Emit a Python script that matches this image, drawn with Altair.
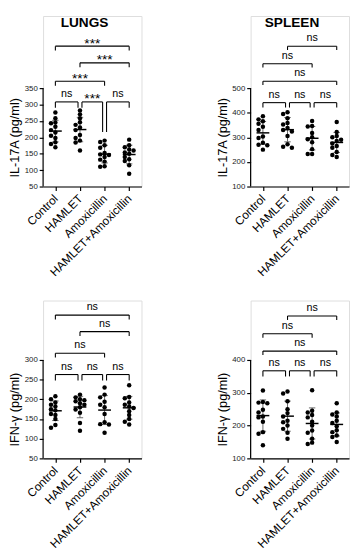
import altair as alt
import pandas as pd

FONT = "Liberation Sans, Arial, sans-serif"
groups = ["Control", "HAMLET", "Amoxicillin", "HAMLET+Amoxicillin"]

# ---- data ----
lung_il17 = [
    [276, 258, 245, 243, 232, 222, 215, 205, 198, 185, 180, 170],
    [282, 270, 258, 246, 238, 230, 222, 207, 198, 190, 184, 160],
    [190, 186, 176, 168, 152, 148, 146, 140, 132, 126, 112, 110],
    [193, 176, 170, 163, 160, 154, 150, 140, 133, 128, 115, 89],
]
spleen_il17 = [
    [386, 373, 365, 355, 343, 330, 303, 297, 278, 270, 268, 250],
    [402, 395, 378, 358, 352, 338, 330, 324, 305, 272, 262, 258],
    [366, 346, 344, 318, 300, 292, 280, 252, 232, 232],
    [362, 322, 305, 300, 290, 285, 275, 265, 258, 240, 228, 220],
]
lung_ifn = [
    [208, 200, 192, 186, 182, 175, 172, 163, 160, 150, 135, 128],
    [212, 205, 200, 198, 195, 190, 186, 180, 174, 166, 140, 120],
    [230, 212, 205, 194, 186, 180, 163, 142, 137, 136, 115],
    [236, 206, 203, 192, 186, 182, 178, 170, 160, 150, 143, 136],
]
spleen_ifn = [
    [307, 272, 270, 268, 248, 240, 228, 225, 212, 180, 175, 140],
    [304, 298, 274, 250, 238, 228, 215, 210, 200, 190, 178, 160],
    [308, 245, 240, 232, 225, 212, 200, 185, 178, 160, 148, 144],
    [268, 240, 234, 228, 215, 208, 198, 186, 180, 170, 165, 150],
]

# significance brackets: (group from, group to, level, left leg end, right leg end, label)
br_lung_il17 = [
    (0, 3, 478, 465, 465, "***"),
    (1, 3, 427, 414, 414, "***"),
    (0, 2, 371, 357, 357, "***"),
    (0, 1, 308, 290, 290, "ns"),
    (1, 2, 308, 290, 216, "***"),
    (2, 3, 308, 216, 290, "ns"),
]
br_spleen_il17 = [
    (1, 3, 670, 655, 655, "ns"),
    (0, 2, 599, 584, 584, "ns"),
    (0, 3, 528, 513, 513, "ns"),
    (0, 1, 441, 421, 421, "ns"),
    (1, 2, 441, 421, 421, "ns"),
    (2, 3, 441, 421, 421, "ns"),
]
br_lung_ifn = [
    (0, 3, 414, 403, 403, "ns"),
    (1, 3, 372, 361, 361, "ns"),
    (0, 2, 317, 306, 306, "ns"),
    (0, 1, 263, 248, 248, "ns"),
    (1, 2, 263, 248, 248, "ns"),
    (2, 3, 263, 248, 248, "ns"),
]
br_spleen_ifn = [
    (1, 3, 534, 522, 522, "ns"),
    (0, 2, 480, 468, 468, "ns"),
    (0, 3, 427, 415, 415, "ns"),
    (0, 1, 367, 350, 350, "ns"),
    (1, 2, 367, 350, 350, "ns"),
    (2, 3, 367, 350, 350, "ns"),
]

panels = [
    dict(title="LUNGS", ytitle="IL-17A (pg/ml)", ymin=50, ymax=350, step=50, data=lung_il17, br=br_lung_il17),
    dict(title="SPLEEN", ytitle="IL-17A (pg/ml)", ymin=100, ymax=500, step=100, data=spleen_il17, br=br_spleen_il17),
    dict(title=None, ytitle="IFN-\u03b3 (pg/ml)", ymin=50, ymax=300, step=50, data=lung_ifn, br=br_lung_ifn),
    dict(title=None, ytitle="IFN-\u03b3 (pg/ml)", ymin=100, ymax=400, step=100, data=spleen_ifn, br=br_spleen_ifn),
]

# ---- layout constants ----
W = 101          # plot width
AXIS_PX = 101    # pixel length of the drawn y axis
H_TOP = 175
H_BOT = 162
GAP = 0.08
XSTEP = W / 4.0

label_expr = "[" + ",".join("'%s'" % g for g in groups) + "][datum.value]"


def swarm(values, ppu):
    placed = []
    offs = []
    cands = [0, -4.5, 4.5, -2.5, 2.5, -6.5, 6.5, -8, 8]
    for v in values:
        y = v * ppu
        pick = cands[-1]
        for c in cands:
            if all((c - px) ** 2 + (y - py) ** 2 >= 4.0 ** 2 for py, px in placed):
                pick = c
                break
        placed.append((y, pick))
        offs.append(pick / XSTEP)
    return offs


def make_panel(p, H):
    ppu = AXIS_PX / (p["ymax"] - p["ymin"])
    rows = []
    for i, vals in enumerate(p["data"]):
        svals = sorted(vals, reverse=True)
        offs = swarm(svals, ppu)
        for v, o in zip(svals, offs):
            rows.append(dict(idx=i, group=groups[i], value=v, xj=i + o))
    df = pd.DataFrame(rows)

    top = p["ymin"] + H / ppu
    yscale = alt.Scale(domain=[p["ymin"], top], nice=False, zero=False)
    xscale = alt.Scale(domain=[-0.5, 3.5], nice=False, zero=False)
    ticks = list(range(p["ymin"], p["ymax"] + 1, p["step"]))

    xaxis = alt.Axis(values=[0, 1, 2, 3], labelExpr=label_expr, labelAngle=-45,
                     labelAlign="right", labelBaseline="middle", labelFontSize=12,
                     labelFont=FONT, labelColor="black", labelPadding=6, title=None,
                     labelOverlap=False, labelBound=False,
                     grid=False, tickSize=4, tickColor="black", domainColor="black",
                     domainWidth=1.2, tickWidth=1.2)
    yaxis = alt.Axis(values=ticks, title=p["ytitle"], titleFontSize=13, titleFont=FONT,
                     titleFontWeight="normal", titleColor="black", titleX=-22,
                     titleY=H - AXIS_PX / 2, titleAngle=270, titleAlign="center",
                     titleBaseline="bottom", domain=False, grid=False, tickSize=4,
                     labelOverlap=False,
                     tickColor="black", tickWidth=1.2, labelFontSize=8, labelFont=FONT,
                     labelColor="#222", labelPadding=2)

    X = lambda f: alt.X(f, scale=xscale, axis=xaxis)
    Y = lambda f: alt.Y(f, scale=yscale, axis=yaxis)

    axis_line = alt.Chart(pd.DataFrame({"lo": [p["ymin"]], "hi": [p["ymax"]]})).mark_rule(
        color="black", strokeWidth=1.2).encode(x=alt.value(0), y=Y("lo:Q"), y2="hi:Q")

    pts = alt.Chart(df).mark_circle(size=21, color="black", opacity=1).encode(
        x=X("xj:Q"), y=Y("value:Q"))

    stats = alt.Chart(df).transform_aggregate(
        m="mean(value)", sd="stdev(value)", groupby=["idx"]
    ).transform_calculate(
        lo="datum.m - datum.sd", hi="datum.m + datum.sd",
        cl="datum.idx - 0.13", cr="datum.idx + 0.13",
        ml="datum.idx - 0.26", mr="datum.idx + 0.26")
    sd_line = stats.mark_rule(color="#666", strokeWidth=1).encode(x=X("idx:Q"), y=Y("lo:Q"), y2="hi:Q")
    cap_hi = stats.mark_rule(color="#666", strokeWidth=1).encode(x=X("cl:Q"), x2="cr:Q", y=Y("hi:Q"))
    cap_lo = stats.mark_rule(color="#666", strokeWidth=1).encode(x=X("cl:Q"), x2="cr:Q", y=Y("lo:Q"))
    mean_line = stats.mark_rule(color="black", strokeWidth=1.5).encode(x=X("ml:Q"), x2="mr:Q", y=Y("m:Q"))

    segs = []
    texts = []
    for (a, b, lvl, l1, l2, lab) in p["br"]:
        xa, xb = float(a), float(b)
        if b - a == 1:
            if a > 0:
                xa += GAP
            if b < 3:
                xb -= GAP
        segs.append(dict(x1=xa, x2=xb, y1=lvl, y2=lvl))
        segs.append(dict(x1=xa, x2=xa, y1=l1, y2=lvl))
        segs.append(dict(x1=xb, x2=xb, y1=l2, y2=lvl))
        texts.append(dict(xc=(xa + xb) / 2, y=lvl, label=lab))
    sdf = pd.DataFrame(segs)
    tdf = pd.DataFrame(texts)
    br_rules = alt.Chart(sdf).mark_rule(color="black", strokeWidth=1.1).encode(
        x=X("x1:Q"), x2="x2:Q", y=Y("y1:Q"), y2="y2:Q")
    ns_text = alt.Chart(tdf).transform_filter("datum.label == 'ns'").mark_text(
        fontSize=11, font=FONT, color="black", baseline="alphabetic", dy=-5).encode(
        x=X("xc:Q"), y=Y("y:Q"), text="label:N")
    st_text = alt.Chart(tdf).transform_filter("datum.label != 'ns'").mark_text(
        fontSize=14, font=FONT, color="black", baseline="alphabetic", dy=1.5).encode(
        x=X("xc:Q"), y=Y("y:Q"), text="label:N")

    layers = [axis_line, br_rules, ns_text, st_text, sd_line, cap_hi, cap_lo, mean_line, pts]
    if p["title"]:
        ttl = alt.Chart(pd.DataFrame({"t": [p["title"]]})).mark_text(
            fontSize=14, fontWeight="bold", font=FONT, color="black",
            baseline="top", align="center").encode(
            x=alt.value(W / 2 - 8), y=alt.value(0), text="t:N")
        layers.append(ttl)
    return alt.layer(*layers).properties(width=W, height=H)


A = make_panel(panels[0], H_TOP)
B = make_panel(panels[1], H_TOP)
C = make_panel(panels[2], H_BOT)
D = make_panel(panels[3], H_BOT)

row1 = alt.hconcat(A, B, spacing=75)
row2 = alt.hconcat(C, D, spacing=75)
chart = alt.vconcat(row1, row2, spacing=21).properties(
    padding={"left": 0, "top": 0, "right": 0, "bottom": 0}
).configure_view(stroke=None).configure(background="white")

chart.save("out.html", embed_options={"renderer": "svg", "actions": False})
